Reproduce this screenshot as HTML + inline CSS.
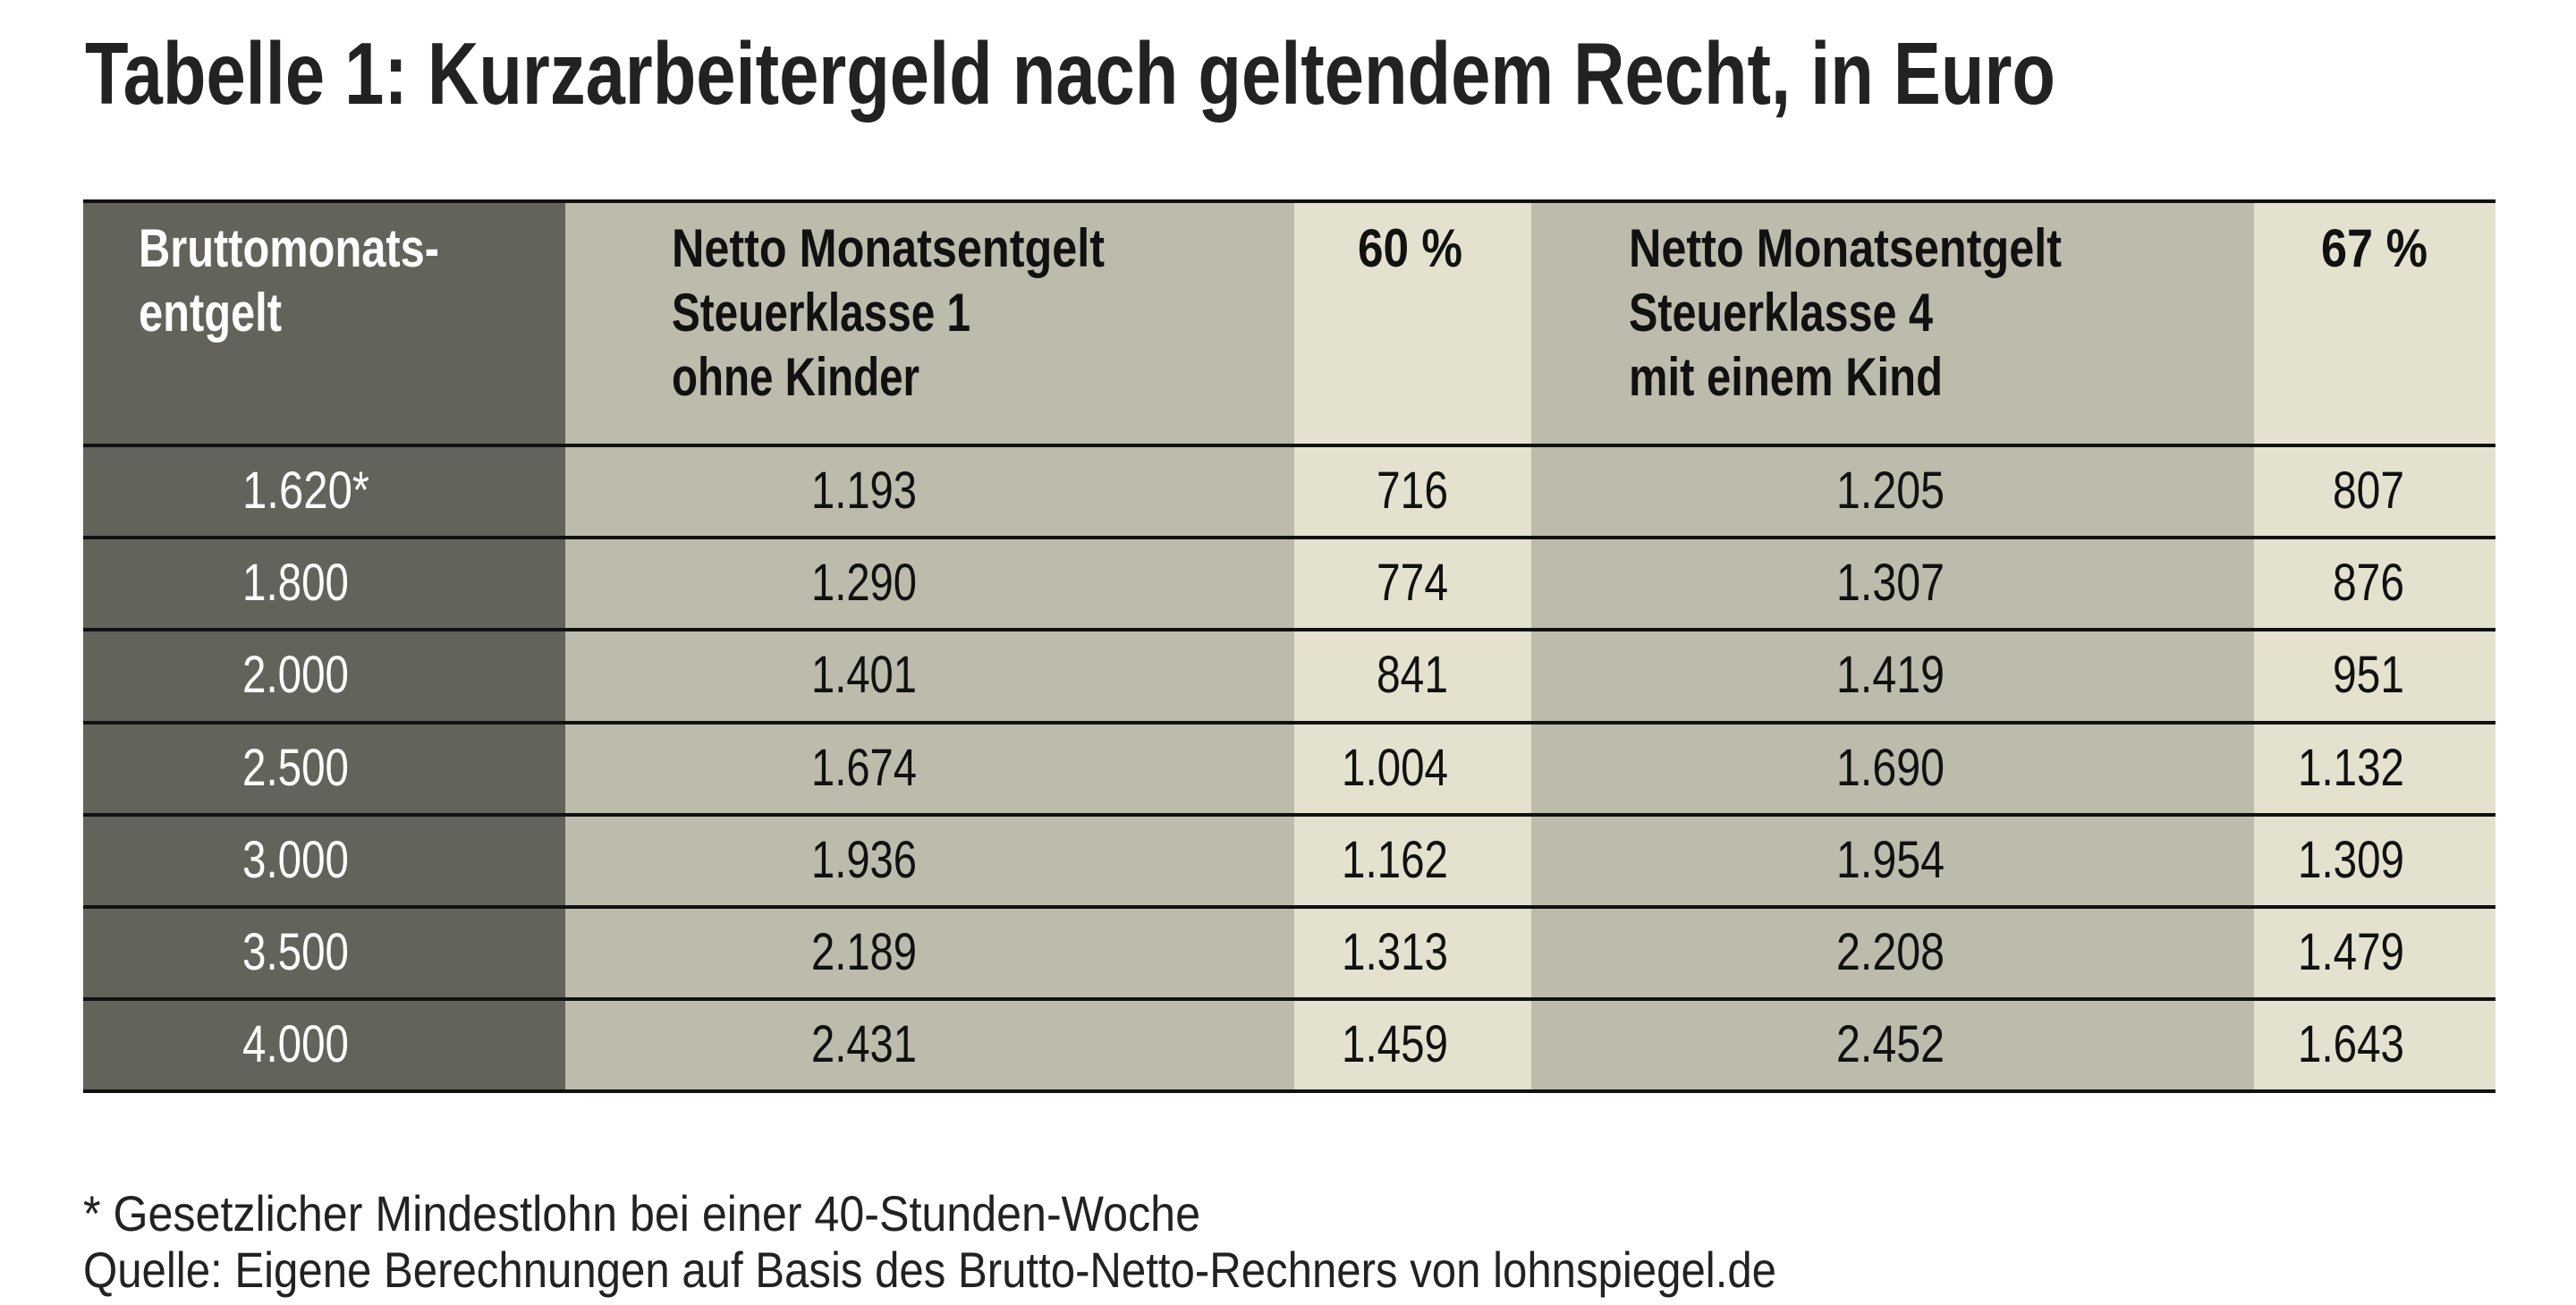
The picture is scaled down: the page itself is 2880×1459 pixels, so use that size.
<!DOCTYPE html>
<html><head><meta charset="utf-8"><style>html,body{margin:0;padding:0;background:#fff}svg{display:block}</style></head>
<body>
<svg width="2880" height="1459" viewBox="0 0 2880 1459" xmlns="http://www.w3.org/2000/svg" font-family="'Liberation Sans', sans-serif">
<rect width="2880" height="1459" fill="#fff"/>
<text x="95" y="116" font-size="98" font-weight="bold" fill="#222" textLength="2203" lengthAdjust="spacingAndGlyphs">Tabelle 1: Kurzarbeitergeld nach geltendem Recht, in Euro</text>
<rect x="93" y="224" width="539" height="996" fill="#63625b"/>
<rect x="632" y="224" width="815" height="996" fill="#bdbbac"/>
<rect x="1447" y="224" width="265" height="996" fill="#e4e2cf"/>
<rect x="1712" y="224" width="808" height="996" fill="#bdbbac"/>
<rect x="2520" y="224" width="270" height="996" fill="#e4e2cf"/>
<g stroke="#111" stroke-width="4">
<line x1="93" x2="2790" y1="225" y2="225"/>
<line x1="93" x2="2790" y1="498" y2="498"/>
<line x1="93" x2="2790" y1="601" y2="601"/>
<line x1="93" x2="2790" y1="704" y2="704"/>
<line x1="93" x2="2790" y1="808" y2="808"/>
<line x1="93" x2="2790" y1="911" y2="911"/>
<line x1="93" x2="2790" y1="1014" y2="1014"/>
<line x1="93" x2="2790" y1="1117" y2="1117"/>
<line x1="93" x2="2790" y1="1220" y2="1220"/>
</g>
<g font-size="60" font-weight="bold" lengthAdjust="spacingAndGlyphs">
<text x="155" y="298" fill="#fff" textLength="336" lengthAdjust="spacingAndGlyphs">Bruttomonats-</text>
<text x="155" y="370" fill="#fff" textLength="160" lengthAdjust="spacingAndGlyphs">entgelt</text>
<text x="751" y="298" fill="#111" textLength="484" lengthAdjust="spacingAndGlyphs">Netto Monatsentgelt</text>
<text x="751" y="370" fill="#111" textLength="334" lengthAdjust="spacingAndGlyphs">Steuerklasse 1</text>
<text x="751" y="442" fill="#111" textLength="277" lengthAdjust="spacingAndGlyphs">ohne Kinder</text>
<text x="1518" y="298" fill="#111" textLength="117" lengthAdjust="spacingAndGlyphs">60 %</text>
<text x="1821" y="298" fill="#111" textLength="484" lengthAdjust="spacingAndGlyphs">Netto Monatsentgelt</text>
<text x="1821" y="370" fill="#111" textLength="340" lengthAdjust="spacingAndGlyphs">Steuerklasse 4</text>
<text x="1821" y="442" fill="#111" textLength="351" lengthAdjust="spacingAndGlyphs">mit einem Kind</text>
<text x="2595" y="298" fill="#111" textLength="119" lengthAdjust="spacingAndGlyphs">67 %</text>
</g>
<g font-size="58" fill="#111">
<g fill="#fff">
<text x="271" y="568" textLength="142" lengthAdjust="spacingAndGlyphs">1.620*</text>
<text x="271" y="671" textLength="119" lengthAdjust="spacingAndGlyphs">1.800</text>
<text x="271" y="774" textLength="119" lengthAdjust="spacingAndGlyphs">2.000</text>
<text x="271" y="878" textLength="119" lengthAdjust="spacingAndGlyphs">2.500</text>
<text x="271" y="981" textLength="119" lengthAdjust="spacingAndGlyphs">3.000</text>
<text x="271" y="1084" textLength="119" lengthAdjust="spacingAndGlyphs">3.500</text>
<text x="271" y="1187" textLength="119" lengthAdjust="spacingAndGlyphs">4.000</text>
</g>
<text x="907" y="568" textLength="118" lengthAdjust="spacingAndGlyphs">1.193</text>
<text x="907" y="671" textLength="118" lengthAdjust="spacingAndGlyphs">1.290</text>
<text x="907" y="774" textLength="118" lengthAdjust="spacingAndGlyphs">1.401</text>
<text x="907" y="878" textLength="118" lengthAdjust="spacingAndGlyphs">1.674</text>
<text x="907" y="981" textLength="118" lengthAdjust="spacingAndGlyphs">1.936</text>
<text x="907" y="1084" textLength="118" lengthAdjust="spacingAndGlyphs">2.189</text>
<text x="907" y="1187" textLength="118" lengthAdjust="spacingAndGlyphs">2.431</text>
<text x="1539" y="568" textLength="80" lengthAdjust="spacingAndGlyphs">716</text>
<text x="1539" y="671" textLength="80" lengthAdjust="spacingAndGlyphs">774</text>
<text x="1539" y="774" textLength="80" lengthAdjust="spacingAndGlyphs">841</text>
<text x="1500" y="878" textLength="119" lengthAdjust="spacingAndGlyphs">1.004</text>
<text x="1500" y="981" textLength="119" lengthAdjust="spacingAndGlyphs">1.162</text>
<text x="1500" y="1084" textLength="119" lengthAdjust="spacingAndGlyphs">1.313</text>
<text x="1500" y="1187" textLength="119" lengthAdjust="spacingAndGlyphs">1.459</text>
<text x="2053" y="568" textLength="121" lengthAdjust="spacingAndGlyphs">1.205</text>
<text x="2053" y="671" textLength="121" lengthAdjust="spacingAndGlyphs">1.307</text>
<text x="2053" y="774" textLength="121" lengthAdjust="spacingAndGlyphs">1.419</text>
<text x="2053" y="878" textLength="121" lengthAdjust="spacingAndGlyphs">1.690</text>
<text x="2053" y="981" textLength="121" lengthAdjust="spacingAndGlyphs">1.954</text>
<text x="2053" y="1084" textLength="121" lengthAdjust="spacingAndGlyphs">2.208</text>
<text x="2053" y="1187" textLength="121" lengthAdjust="spacingAndGlyphs">2.452</text>
<text x="2608" y="568" textLength="80" lengthAdjust="spacingAndGlyphs">807</text>
<text x="2608" y="671" textLength="80" lengthAdjust="spacingAndGlyphs">876</text>
<text x="2608" y="774" textLength="80" lengthAdjust="spacingAndGlyphs">951</text>
<text x="2569" y="878" textLength="119" lengthAdjust="spacingAndGlyphs">1.132</text>
<text x="2569" y="981" textLength="119" lengthAdjust="spacingAndGlyphs">1.309</text>
<text x="2569" y="1084" textLength="119" lengthAdjust="spacingAndGlyphs">1.479</text>
<text x="2569" y="1187" textLength="119" lengthAdjust="spacingAndGlyphs">1.643</text>
</g>
<g font-size="56" fill="#222">
<text x="93" y="1376" textLength="1249" lengthAdjust="spacingAndGlyphs">* Gesetzlicher Mindestlohn bei einer 40-Stunden-Woche</text>
<text x="93" y="1439" textLength="1893" lengthAdjust="spacingAndGlyphs">Quelle: Eigene Berechnungen auf Basis des Brutto-Netto-Rechners von lohnspiegel.de</text>
</g>
</svg>
</body></html>
